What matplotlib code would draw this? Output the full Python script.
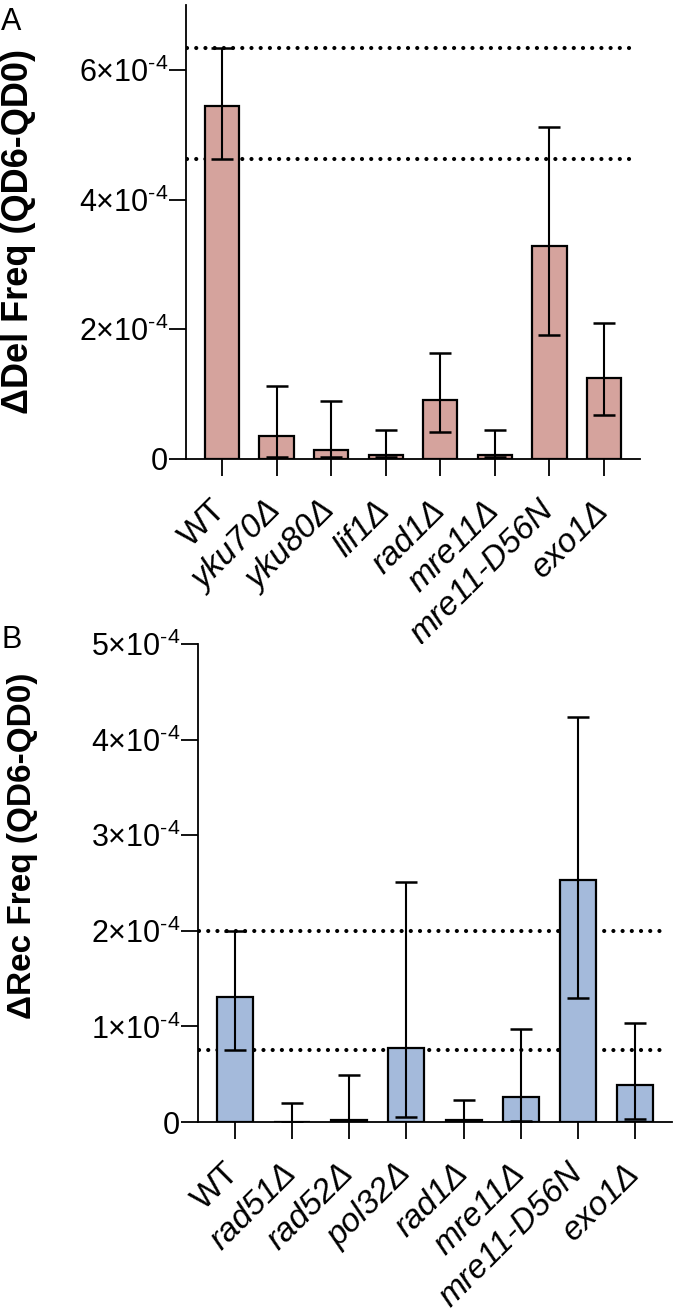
import numpy as np
import matplotlib
matplotlib.use('Agg')
import matplotlib.pyplot as plt
from matplotlib.ticker import FuncFormatter

plt.rcParams['font.family'] = ['Liberation Sans', 'DejaVu Sans']
plt.rcParams['mathtext.fontset'] = 'custom'
plt.rcParams['mathtext.rm'] = 'Liberation Sans'
plt.rcParams['mathtext.it'] = 'Liberation Sans:italic'

# panel A - deletion
del_labels = ['WT', 'yku70Δ', 'yku80Δ', 'lif1Δ', 'rad1Δ', 'mre11Δ', 'mre11-D56N', 'exo1Δ']
del_mean = [5.44e-4, 0.36e-4, 0.14e-4, 0.06e-4, 0.91e-4, 0.06e-4, 3.29e-4, 1.25e-4]
del_low = [4.62e-4, 0.03e-4, 0.03e-4, 0.03e-4, 0.42e-4, 0.03e-4, 1.91e-4, 0.68e-4]
del_high = [6.34e-4, 1.12e-4, 0.90e-4, 0.44e-4, 1.63e-4, 0.44e-4, 5.12e-4, 2.10e-4]

# panel B - recombination
rec_labels = ['WT', 'rad51Δ', 'rad52Δ', 'pol32Δ', 'rad1Δ', 'mre11Δ', 'mre11-D56N', 'exo1Δ']
rec_mean = [1.31e-4, 0.0, 0.02e-4, 0.77e-4, 0.02e-4, 0.26e-4, 2.53e-4, 0.39e-4]
rec_low = [0.755e-4, 0.0, 0.02e-4, 0.05e-4, 0.02e-4, 0.01e-4, 1.30e-4, 0.03e-4]
rec_high = [2.0e-4, 0.20e-4, 0.49e-4, 2.51e-4, 0.23e-4, 0.97e-4, 4.24e-4, 1.04e-4]

W, H = 678, 1313
fig = plt.figure(figsize=(W / 100, H / 100), dpi=100)


def fmt(v, pos):
    if abs(v) < 1e-12:
        return '0'
    m = int(round(v / 1e-4))
    return r'$%d{\times}10^{\text{-4}}$' % m


def panel(rect, labels, mean, low, high, color, ylim, yticks, ylabel, xl, lsize):
    ax = fig.add_axes(rect)
    x = np.arange(len(labels))
    mean = np.array(mean)
    yerr = [mean - np.array(low), np.array(high) - mean]
    ax.bar(x, mean, width=0.63, color=color, edgecolor='black', linewidth=1.6, zorder=2)
    ax.errorbar(x, mean, yerr=yerr, fmt='none', ecolor='black', elinewidth=1.5,
                capsize=8, capthick=1.8, zorder=3)
    # WT error band reference lines
    for yv in (low[0], high[0]):
        ax.plot([xl[0] + 0.02, xl[1] - 0.1], [yv, yv], color='black', linewidth=3.0,
                linestyle=(0, (0.01, 2.2)), dash_capstyle='round', zorder=1)
    ax.set_xlim(*xl)
    ax.set_ylim(*ylim)
    ax.set_yticks(yticks)
    ax.yaxis.set_major_formatter(FuncFormatter(fmt))
    ax.set_xticks(x)
    ax.set_xticklabels(labels, rotation=45, ha='right', va='center',
                       rotation_mode='anchor', fontsize=24)
    for t in ax.get_xticklabels():
        if t.get_text() != 'WT':
            t.set_style('italic')
    ax.spines['top'].set_visible(False)
    ax.spines['right'].set_visible(False)
    for s in ('left', 'bottom'):
        ax.spines[s].set_linewidth(1.3)
    ax.tick_params(axis='y', direction='out', length=12, width=1.3, labelsize=22, pad=1)
    ax.tick_params(axis='x', direction='out', length=12.5, width=1.3, pad=21)
    ax.set_ylabel(ylabel, fontsize=lsize, fontweight='bold')
    return ax


axA = panel([186 / W, 1 - 459 / H, (640 - 186) / W, (459 - 5) / H],
            del_labels, del_mean, del_low, del_high, '#d5a39d',
            (0, 7e-4), [0, 2e-4, 4e-4, 6e-4], 'ΔDel Freq (QD6-QD0)', (-0.66, 7.66), 26)
axA.yaxis.set_label_coords((36 - 186) / (640 - 186), 0.5)

axB = panel([198 / W, 1 - 1122 / H, (672 - 198) / W, (1122 - 644) / H],
            rec_labels, rec_mean, rec_low, rec_high, '#a4badb',
            (0, 5e-4), [0, 1e-4, 2e-4, 3e-4, 4e-4, 5e-4], 'ΔRec Freq (QD6-QD0)', (-0.64, 7.64), 24)
axB.yaxis.set_label_coords((38 - 198) / (672 - 198), 0.577)

fig.text(1 / W, 1 - 30 / H, 'A', fontsize=22)
fig.text(1 / W, 1 - 648 / H, 'B', fontsize=22)

fig.savefig('out.png', dpi=100)
